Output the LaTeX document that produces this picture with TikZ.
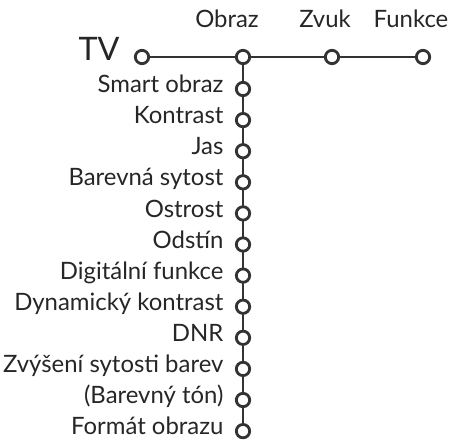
\documentclass[tikz,border=0pt]{standalone}
\usepackage{fontspec}
\setmainfont{Lato}
\usetikzlibrary{positioning}

\begin{document}
\begin{tikzpicture}[x=0.025cm,y=-0.025cm,line cap=round,
  menudot/.style={circle,draw=black!80,fill=white,line width=2pt,minimum size=9.5pt,inner sep=0pt},
  menuitem/.style={font=\fontsize{17}{19}\selectfont,text=black!85,inner sep=1pt,text height=0.72em,text depth=0.2em},
  menuline/.style={draw=black!80,line width=2pt}]
\useasboundingbox (0,0) rectangle (451,442);
% top row
\node[menudot] (tv) at (142,57) {};
\node[menudot] (obraz) at (243,57) {};
\node[menudot] (zvuk) at (332,57) {};
\node[menudot] (funkce) at (423,57) {};
\draw[menuline] (tv) -- (obraz) (obraz) -- (zvuk) (zvuk) -- (funkce);
\node[menuitem,font=\fontsize{23}{25}\selectfont,left=9pt of tv] (ltv) {TV};
\node[menuitem] (lobraz) at (227,24) {Obraz};
\node[menuitem] (lzvuk) at (325,24) {Zvuk};
\node[menuitem] (lfunkce) at (411,24) {Funkce};
% submenu Obraz
\foreach \lbl [count=\i, remember=\i as \j (initially 0)] in {Smart obraz,Kontrast,Jas,Barevná sytost,Ostrost,Odstín,Digitální funkce,Dynamický kontrast,DNR,Zvýšení sytosti barev,(Barevný tón),Formát obrazu}{
  \node[menudot] (d\i) at (243,{89+31.1*(\i-1)}) {};
  \ifnum\i=1
    \draw[menuline] (obraz) -- (d\i);
  \else
    \draw[menuline] (d\j) -- (d\i);
  \fi
  \node[menuitem,left=7pt of d\i] (l\i) {\lbl};
}
\end{tikzpicture}
\end{document}
